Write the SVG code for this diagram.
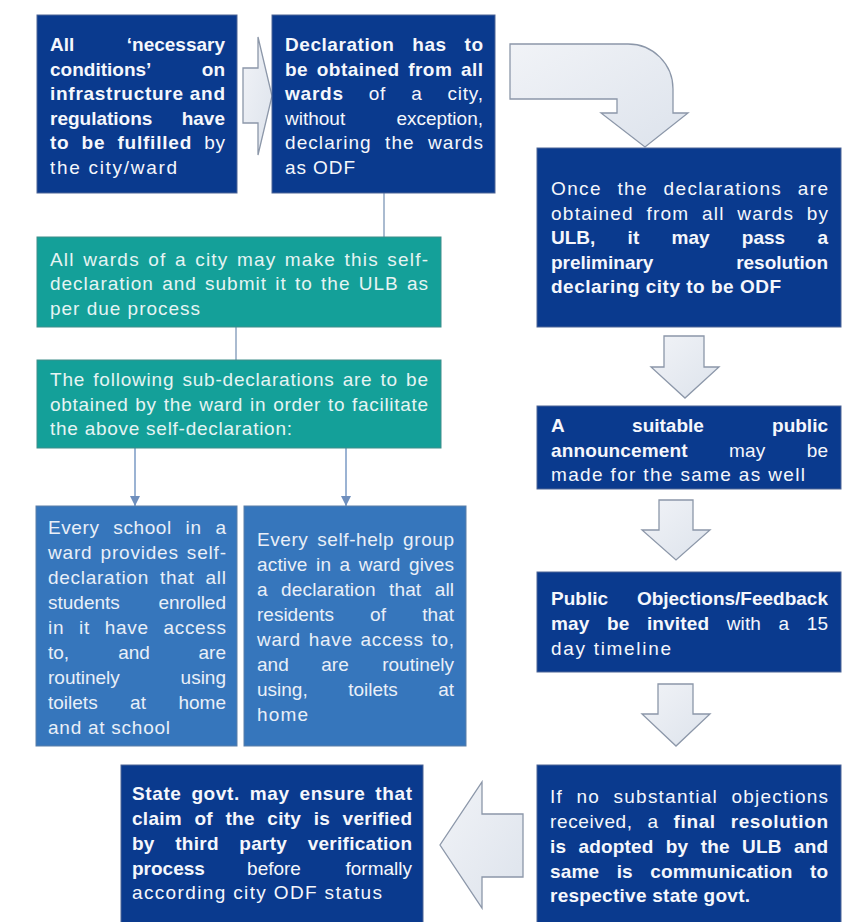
<svg xmlns="http://www.w3.org/2000/svg" width="843" height="922" viewBox="0 0 843 922">
<defs>
<style>
text{font-family:"Liberation Sans",Arial,sans-serif;font-size:19px;}
.dk rect{fill:#0a3a8e;stroke:#4d6496;stroke-width:1}
.dk text{fill:#f5f7fc}
.tl rect{fill:#14a099;stroke:#3e8e8a;stroke-width:1}
.tl text{fill:#e6f4f3}
.md rect{fill:#3676bc;stroke:#5a7ea8;stroke-width:1}
.md text{fill:#e9eff8}
.b{font-weight:bold}
.e{text-anchor:end}
.m{text-anchor:middle}
.arr{fill:url(#ag);stroke:#8c97a9;stroke-width:1.3;stroke-linejoin:miter}
.ln{stroke:#8ea4c0;stroke-width:1.5;fill:none}
.la{stroke:#7a9ac4;stroke-width:1.5;fill:none;marker-end:url(#ah)}
</style>
<linearGradient id="ag" x1="0" y1="0" x2="1" y2="1">
<stop offset="0" stop-color="#f1f3f7"/><stop offset="1" stop-color="#dde3ec"/>
</linearGradient>
<marker id="ah" markerWidth="10" markerHeight="10" refX="10" refY="5" orient="auto" markerUnits="userSpaceOnUse">
<path d="M0,0 L10,5 L0,10 z" fill="#6f8fbd"/>
</marker>
</defs>
<rect width="843" height="922" fill="#ffffff"/>

<g id="connectors">
<line class="ln" x1="384" y1="193" x2="384" y2="237"/>
<line class="ln" x1="236" y1="327" x2="236" y2="360"/>
<line class="la" x1="135" y1="448" x2="135" y2="506"/>
<line class="la" x1="346" y1="448" x2="346" y2="506"/>
<polygon class="arr" points="243,68 258,68 258,37 272,96 258,155 258,123 243,123"/>
<path class="arr" d="M510,44 L628,44 C653,44 673,64 673,89 L673,113 L688,113 L645,147 L601,113 L617,113 L617,99 L510,99 Z"/>
<polygon class="arr" points="664,336 704,336 704,367 719,367 685,398 651,367 664,367"/>
<polygon class="arr" points="659,500 693,500 693,530 710,530 676,560 642,530 659,530"/>
<polygon class="arr" points="658,684 693,684 693,714 710,714 676,746 642,714 658,714"/>
<polygon class="arr" points="523,814 482,814 482,782 440,845 482,908 482,877 523,877"/>
</g>

<g id="n1" class="dk">
<rect x="37" y="15" width="200" height="178"/>
<text x="50" y="51" class="b">All</text><text x="225" y="51" class="b e">‘necessary</text>
<text x="50" y="75.5" class="b">conditions’</text><text x="225" y="75.5" class="b e">on</text>
<text x="50" y="100" class="b" textLength="175">infrastructure and</text>
<text x="50" y="124.5" class="b">regulations</text><text x="225" y="124.5" class="b e">have</text>
<text x="50" y="149" textLength="175" style="word-spacing:6px"><tspan class="b">to be fulfilled</tspan> by</text>
<text x="50" y="173.5" textLength="127">the city/ward</text>
</g>

<g id="n2" class="dk">
<rect x="272" y="15" width="223" height="178"/>
<text x="285" y="51" class="b" textLength="198" style="word-spacing:12px">Declaration has to</text>
<text x="285" y="75.5" class="b" textLength="198" style="word-spacing:3px">be obtained from all</text>
<text x="285" y="100" textLength="198" style="word-spacing:19px"><tspan class="b">wards</tspan> of a city,</text>
<text x="285" y="124.5">without</text><text x="483" y="124.5" class="e">exception,</text>
<text x="285" y="149" textLength="198" style="word-spacing:7px">declaring the wards</text>
<text x="285" y="173.5" textLength="70">as ODF</text>
</g>

<g id="n3" class="dk">
<rect x="537" y="148" width="304" height="179"/>
<text x="551" y="195" textLength="277" style="word-spacing:9px">Once the declarations are</text>
<text x="551" y="219.5" textLength="277" style="word-spacing:6px">obtained from all wards by</text>
<text x="551" y="244" class="b" textLength="277" style="word-spacing:27px">ULB, it may pass a</text>
<text x="551" y="268.5" class="b">preliminary</text><text x="828" y="268.5" class="b e">resolution</text>
<text x="551" y="293" class="b" textLength="230">declaring city to be ODF</text>
</g>

<g id="n4" class="tl">
<rect x="37" y="237" width="404" height="90"/>
<text x="50" y="265.5" textLength="378" style="word-spacing:2px">All wards of a city may make this self-</text>
<text x="50" y="290" textLength="378" style="word-spacing:2px">declaration and submit it to the ULB as</text>
<text x="50" y="314.5" textLength="150">per due process</text>
</g>

<g id="n5" class="tl">
<rect x="37" y="360" width="404" height="88"/>
<text x="50" y="386" textLength="378" style="word-spacing:2px">The following sub-declarations are to be</text>
<text x="50" y="410.5" textLength="378" style="word-spacing:1px">obtained by the ward in order to facilitate</text>
<text x="50" y="435" textLength="242">the above self-declaration:</text>
</g>

<g id="n6" class="md">
<rect x="36" y="506" width="201" height="240"/>
<text x="48" y="534" textLength="178" style="word-spacing:8px">Every school in a</text>
<text x="48" y="559" textLength="178" style="word-spacing:2px">ward provides self-</text>
<text x="48" y="584" textLength="178" style="word-spacing:5px">declaration that all</text>
<text x="48" y="609">students</text><text x="226" y="609" class="e">enrolled</text>
<text x="48" y="634" textLength="178" style="word-spacing:9px">in it have access</text>
<text x="48" y="659">to,</text><text x="134" y="659" class="m">and</text><text x="226" y="659" class="e">are</text>
<text x="48" y="684">routinely</text><text x="226" y="684" class="e">using</text>
<text x="48" y="709">toilets</text><text x="138" y="709" class="m">at</text><text x="226" y="709" class="e">home</text>
<text x="48" y="734" textLength="122">and at school</text>
</g>

<g id="n7" class="md">
<rect x="244" y="506" width="222" height="240"/>
<text x="257" y="546" textLength="197" style="word-spacing:3px">Every self-help group</text>
<text x="257" y="571" textLength="197" style="word-spacing:3px">active in a ward gives</text>
<text x="257" y="596" textLength="197" style="word-spacing:8px">a declaration that all</text>
<text x="257" y="621">residents</text><text x="378" y="621" class="m">of</text><text x="454" y="621" class="e">that</text>
<text x="257" y="646" textLength="197" style="word-spacing:2px">ward have access to,</text>
<text x="257" y="671">and</text><text x="335" y="671" class="m">are</text><text x="454" y="671" class="e">routinely</text>
<text x="257" y="696">using,</text><text x="373" y="696" class="m">toilets</text><text x="454" y="696" class="e">at</text>
<text x="257" y="721" textLength="51">home</text>
</g>

<g id="n8" class="dk">
<rect x="537" y="406" width="304" height="83"/>
<text x="551" y="432" class="b">A</text><text x="668" y="432" class="b m">suitable</text><text x="828" y="432" class="b e">public</text>
<text x="551" y="456.5" textLength="277" style="word-spacing:36px"><tspan class="b">announcement</tspan> may be</text>
<text x="551" y="481" textLength="254">made for the same as well</text>
</g>

<g id="n9" class="dk">
<rect x="537" y="572" width="304" height="100"/>
<text x="551" y="605" class="b">Public</text><text x="828" y="605" class="b e">Objections/Feedback</text>
<text x="551" y="630" textLength="277" style="word-spacing:12px"><tspan class="b">may be invited</tspan> with a 15</text>
<text x="551" y="655" textLength="120">day timeline</text>
</g>

<g id="n10" class="dk">
<rect x="537" y="765" width="304" height="165"/>
<text x="550" y="803" textLength="278" style="word-spacing:7px">If no substantial objections</text>
<text x="550" y="828" textLength="278" style="word-spacing:9px">received, a <tspan class="b">final resolution</tspan></text>
<text x="550" y="853" class="b" textLength="278" style="word-spacing:7px">is adopted by the ULB and</text>
<text x="550" y="878" class="b" textLength="278" style="word-spacing:12px">same is communication to</text>
<text x="550" y="902" class="b" textLength="200">respective state govt.</text>
</g>

<g id="n11" class="dk">
<rect x="121" y="765" width="302" height="165"/>
<text x="132" y="800" class="b" textLength="280" style="word-spacing:4px">State govt. may ensure that</text>
<text x="132" y="825" class="b" textLength="280" style="word-spacing:7px">claim of the city is verified</text>
<text x="132" y="850" class="b" textLength="280" style="word-spacing:15px">by third party verification</text>
<text x="132" y="874.5" class="b">process</text><text x="274" y="874.5" class="m">before</text><text x="412" y="874.5" class="e">formally</text>
<text x="132" y="899" textLength="250">according city ODF status</text>
</g>
</svg>
